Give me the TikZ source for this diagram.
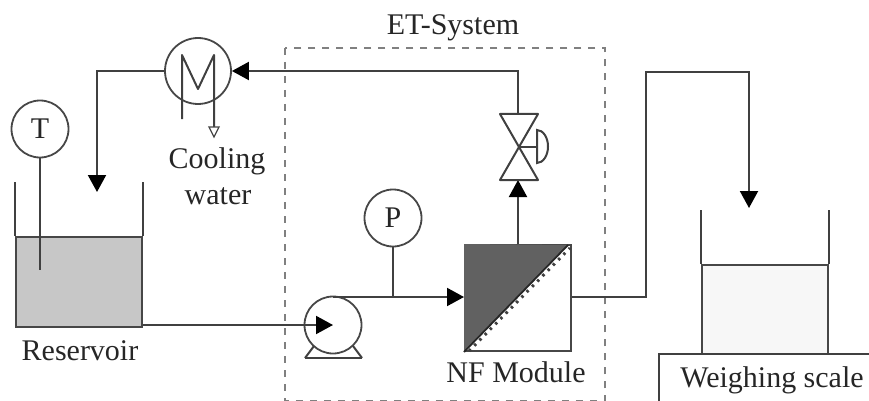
\documentclass[tikz,border=0pt]{standalone}
\usepackage{fontspec}
\setmainfont{Liberation Serif}
\usetikzlibrary{arrows.meta}
\tikzset{
  pipe/.style={line width=2pt, draw=black!75},
  flow/.style={pipe, -{Triangle[length=17pt,width=18pt,color=black]}},
  gauge/.style={circle, draw=black!72, line width=1.8pt, minimum size=57pt, inner sep=0pt},
  label/.style={inner sep=0pt, text=black!85, font=\fontsize{30}{35}\selectfont},
  tank/.style={rectangle, draw=black!72, line width=2.2pt, minimum width=126pt, inner sep=0pt}
}
\begin{document}
\begin{tikzpicture}[x=1pt, y=-1pt]
\useasboundingbox (0,0) rectangle (869,401);

\draw[black!50, line width=1.5pt, dash pattern=on 7pt off 7pt] (285,48) rectangle (605,401.2);

\node (reservoir) [tank, fill=black!22, minimum height=90pt] at (79,282) {};
\node (tankT) [gauge, label] at (40,129) {T};
\node (hx) [gauge, minimum size=66pt] at (198,71) {};
\node (pump) [gauge] at (333,325) {};
\node (tee) [inner sep=0pt] at (393,297) {};
\node (gaugeP) [gauge, label] at (393,218) {P};
\node (nf) [rectangle, draw=black!72, line width=2pt, minimum size=106pt, inner sep=0pt] at (518,298) {};
\node (valve) [inner sep=0pt] at (518,147) {};
\node (beaker) [tank, fill=black!3, minimum height=89pt] at (765,309.5) {};

\node (title) [label] at (453,28) {ET-System};
\node (cooling) [label] at (217,161) {Cooling};
\node (water) [label] at (218,196) {water};
\node (resname) [label] at (80,351) {Reservoir};
\node (nfname) [label] at (516,372) {NF Module};
\node (scalename) [label] at (772,380) {Weighing scale};

\coordinate (bend1) at (97,71);
\coordinate (drop1) at (97,192);
\coordinate (bend2) at (518,71);
\coordinate (bend3) at (646,297);
\coordinate (bend4) at (646,72);
\coordinate (bend5) at (749,72);
\coordinate (drop2) at (749,208);
\coordinate (valvetop) at (518,114);
\coordinate (valvebot) at (518,180);

\draw[pipe] (reservoir.north west) -- ++(0,-54);
\draw[pipe] (reservoir.north east) -- ++(0,-54);
\draw[pipe] (tankT) -- (40,270);
\draw[pipe] (beaker.north west) -- ++(0,-54);
\draw[pipe] (beaker.north east) -- ++(0,-54);
\draw[pipe] (869,354) -- (659,354) -- (659,401);

\draw[flow] (hx.west) -- (bend1) -- (drop1);
\draw[flow] (valvetop) -- (bend2) -- (hx.east);
\draw[flow] (reservoir.east |- pump) to (pump.center);
\draw[flow] (pump.north |- bend3) -- (bend3 -| nf.west);
\draw[pipe] (gaugeP) -- (tee);
\draw[flow] (nf.north) -- (valvebot);
\draw[flow] (nf.east |- bend3) -- (bend3) -- (bend4) -- (bend5) -- (drop2);

\draw[pipe, line join=round] (182,119) -- (182,55) -- (198,89) -- (214,55) -- (214,129);
\draw[black!72, line width=1.3pt, fill=white] (209,127) -- (219,127) -- (214,137) -- cycle;

\draw[pipe] (305,358) -- (362,358);
\draw[pipe] (305,358) -- (314,346);
\draw[pipe] (362,358) -- (353,346);

\fill[black!62] (nf.south west) -- (nf.north west) -- (568,245) -- cycle;
\draw[black!85, line width=1.8pt] (nf.south west) -- (568,245);
\draw[black!75, line width=3pt, dash pattern=on 2.5pt off 5pt] (469,351) -- (570,248);

\draw[pipe, line join=round] (500,114) -- (538,114) -- (500,180) -- (538,180) -- cycle;
\draw[pipe] (valve) -- (537,147);
\draw[pipe, fill=white] (537,130) arc[start angle=90, end angle=-90, x radius=11pt, y radius=16.5pt] -- cycle;

\end{tikzpicture}
\end{document}
